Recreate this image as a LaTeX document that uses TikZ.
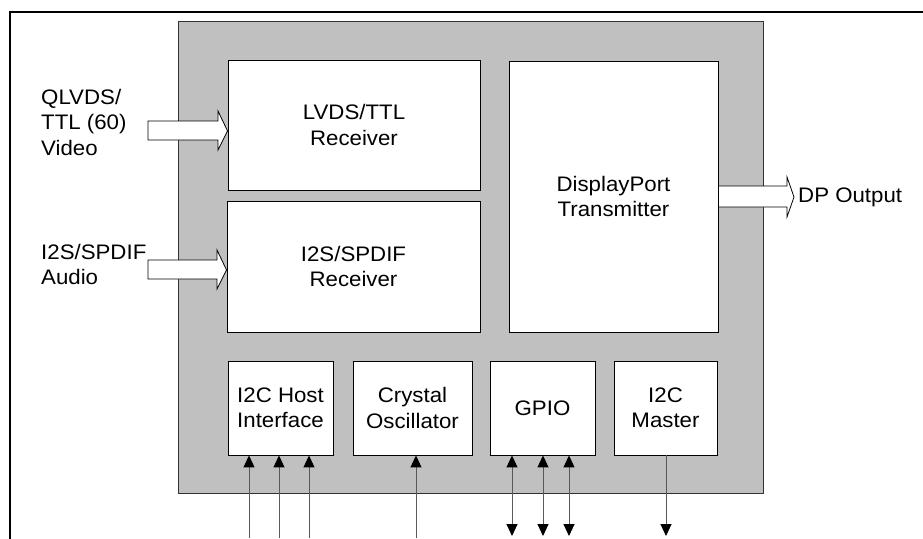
\documentclass[tikz,border=0pt]{standalone}
\usepackage{fontspec}
\setmainfont{Liberation Sans}[FakeStretch=1.06]
\usetikzlibrary{arrows.meta}
\definecolor{chipgray}{RGB}{192,192,192}
\newcommand\dfont{\fontsize{21}{25.5}\selectfont}
\begin{document}
\begin{tikzpicture}[x=1pt,y=-1pt,
  chipbox/.style={draw=black!80, line width=1pt, fill=chipgray, inner sep=0pt},
  blockbox/.style={draw=black, line width=0.9pt, fill=white, inner sep=0pt, align=center, font=\dfont},
  lbl/.style={inner sep=0pt, align=left, font=\dfont, anchor=west},
  hollow/.style={draw=black, line width=0.8pt, fill=white, line join=miter},
  sig/.style={draw=black!65, line width=1pt},
  sigtip/.tip={Triangle[width=11pt,length=12pt,color=black]}
]
\useasboundingbox (0,0) rectangle (923,538);
% outer frame
\draw[line width=2pt] (10,540) -- (10,11.5) -- (925,11.5);
% chip
\node[chipbox, minimum width=585pt, minimum height=472pt] (chip) at (470.5,257) {};
% blocks
\node[blockbox, minimum width=252pt, minimum height=130pt] (lvds) at (354,125) {LVDS/TTL\\Receiver};
\node[blockbox, minimum width=253pt, minimum height=131pt] (i2s) at (353.5,266.5) {I2S/SPDIF\\Receiver};
\node[blockbox, minimum width=209pt, minimum height=271pt] (dp) at (613.5,196.5) {DisplayPort\\Transmitter};
\node[blockbox, minimum width=105pt, minimum height=94pt] (host) at (280.5,408) {I2C Host\\Interface};
\node[blockbox, minimum width=119pt, minimum height=94pt] (xtal) at (412.5,408) {Crystal\\Oscillator};
\node[blockbox, minimum width=105pt, minimum height=94pt] (gpio) at (542.5,408) {GPIO};
\node[blockbox, minimum width=103pt, minimum height=94pt] (master) at (665.5,408) {I2C\\Master};
% labels
\node[lbl] (video) at (41,122) {QLVDS/\\TTL (60)\\Video};
\node[lbl] (audio) at (41,264.5) {I2S/SPDIF\\Audio};
\node[lbl] (dpout) at (798,197) {DP Output};
% hollow arrows
\draw[hollow] (148,121) -- (218,121) -- (218,111) -- (lvds.west |- 0,131) -- (218,150) -- (218,140) -- (148,140) -- cycle;
\draw[hollow] (148,260) -- (217,260) -- (217,250) -- (i2s.west |- 0,270) -- (217,289) -- (217,279) -- (148,279) -- cycle;
\draw[hollow] (dp.east |- 0,186) -- (787,186) -- (787,177) -- (794,197) -- (787,217) -- (787,207) -- (dp.east |- 0,207) -- cycle;
% signal lines
\coordinate (h1) at (249,538);
\coordinate (h2) at (279,538);
\coordinate (h3) at (309,538);
\coordinate (x1) at (416,538);
\coordinate (g1) at (512,536);
\coordinate (g2) at (543,536);
\coordinate (g3) at (569,536);
\coordinate (m1) at (666,536);
\foreach \c/\b in {h1/host,h2/host,h3/host,x1/xtal}
  \draw[sig, -sigtip] (\c) -- (\c |- \b.south);
\foreach \c in {g1,g2,g3}
  \draw[sig, sigtip-sigtip] (\c) -- (\c |- gpio.south);
\draw[sig, -sigtip] (m1 |- master.south) -- (m1);
\end{tikzpicture}
\end{document}
